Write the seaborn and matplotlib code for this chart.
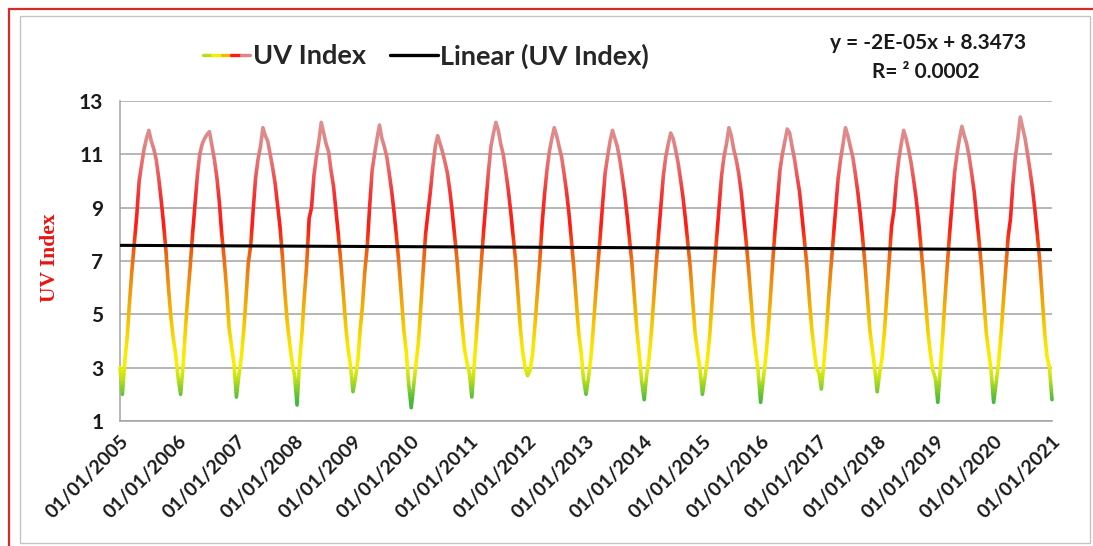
import numpy as np
import pandas as pd
import seaborn as sns
import matplotlib
matplotlib.use("Agg")
import matplotlib.pyplot as plt
import matplotlib.dates as mdates
from matplotlib.colors import LinearSegmentedColormap
from matplotlib.lines import Line2D
from matplotlib.patches import Rectangle
from matplotlib.legend_handler import HandlerTuple

# UV index, two values per month (1st and 16th), one list per year
uv_2005 = [3.0, 2.0, 3.3, 4.2, 5.4, 6.6, 7.7, 8.7, 10.0, 10.6, 11.2, 11.6, 11.9, 11.5, 11.2, 10.8, 10.1, 9.3, 8.4, 7.4, 6.0, 4.9, 4.1, 3.5]
uv_2006 = [2.6, 2.0, 3.1, 4.5, 5.6, 6.7, 8.0, 9.1, 10.2, 11.0, 11.4, 11.6, 11.75, 11.85, 11.3, 10.8, 10.1, 9.2, 8.0, 7.1, 5.9, 4.5, 3.8, 3.2]
uv_2007 = [1.9, 2.7, 3.4, 4.4, 5.5, 6.9, 7.6, 8.9, 10.1, 10.8, 11.3, 12.0, 11.7, 11.5, 11.0, 10.5, 9.9, 9.1, 8.3, 7.2, 5.8, 4.7, 3.9, 3.2]
uv_2008 = [2.7, 1.6, 3.2, 4.3, 5.6, 6.8, 8.6, 9.0, 10.2, 10.9, 11.5, 12.2, 11.8, 11.4, 11.1, 10.4, 9.8, 8.9, 8.0, 7.0, 5.8, 4.6, 3.7, 3.1]
uv_2009 = [2.1, 2.6, 3.3, 4.5, 5.3, 6.6, 7.6, 9.1, 10.4, 11.0, 11.6, 12.1, 11.6, 11.3, 10.9, 10.3, 9.6, 8.8, 7.9, 6.9, 5.6, 4.4, 3.6, 2.4]
uv_2010 = [1.5, 2.3, 3.2, 4.0, 5.2, 6.6, 8.0, 8.8, 9.6, 10.5, 11.3, 11.7, 11.4, 11.1, 10.7, 10.3, 9.6, 8.8, 7.9, 7.0, 5.7, 4.6, 3.7, 3.2]
uv_2011 = [2.8, 1.9, 3.2, 4.4, 5.6, 6.9, 8.2, 9.3, 10.4, 11.3, 11.8, 12.2, 11.9, 11.4, 11.0, 10.4, 9.7, 8.9, 8.0, 7.1, 5.8, 4.5, 3.6, 3.0]
uv_2012 = [2.7, 2.9, 3.5, 4.6, 5.7, 6.9, 8.4, 9.5, 10.4, 11.1, 11.6, 12.0, 11.7, 11.3, 10.9, 10.3, 9.6, 8.8, 7.8, 6.8, 5.5, 4.3, 3.6, 2.6]
uv_2013 = [2.0, 2.6, 3.4, 4.5, 5.6, 6.8, 8.0, 9.2, 10.3, 10.9, 11.5, 11.9, 11.6, 11.3, 10.8, 10.2, 9.5, 8.7, 7.8, 6.9, 5.6, 4.4, 3.5, 2.5]
uv_2014 = [1.8, 2.7, 3.4, 4.4, 5.5, 6.8, 8.0, 9.1, 10.2, 10.9, 11.4, 11.8, 11.6, 11.2, 10.7, 10.1, 9.4, 8.6, 7.7, 6.8, 5.5, 4.3, 3.6, 3.0]
uv_2015 = [2.0, 2.6, 3.3, 4.2, 5.4, 6.7, 7.9, 9.0, 10.2, 10.9, 11.4, 12.0, 11.7, 11.2, 10.8, 10.3, 9.6, 8.7, 7.8, 6.8, 5.6, 4.4, 3.6, 2.9]
uv_2016 = [1.7, 2.5, 3.3, 4.3, 5.5, 6.9, 8.2, 9.3, 10.4, 11.0, 11.5, 11.95, 11.8, 11.3, 10.8, 10.2, 9.6, 8.7, 7.8, 6.9, 5.6, 4.5, 3.7, 3.0]
uv_2017 = [2.8, 2.2, 3.2, 4.3, 5.5, 6.7, 7.9, 9.0, 10.1, 10.8, 11.4, 12.0, 11.7, 11.3, 10.9, 10.3, 9.6, 8.8, 7.9, 6.9, 5.6, 4.4, 3.7, 3.0]
uv_2018 = [2.1, 2.8, 3.4, 4.4, 5.6, 6.9, 8.3, 8.9, 10.0, 10.8, 11.4, 11.9, 11.6, 11.2, 10.7, 10.1, 9.4, 8.6, 7.6, 6.6, 5.4, 4.3, 3.5, 2.9]
uv_2019 = [2.6, 1.7, 3.0, 4.2, 5.5, 6.8, 8.1, 9.2, 10.3, 11.0, 11.6, 12.05, 11.7, 11.4, 10.9, 10.3, 9.6, 8.7, 7.8, 6.8, 5.5, 4.3, 3.6, 2.9]
uv_2020 = [1.7, 2.4, 3.2, 4.2, 5.4, 6.6, 7.9, 8.6, 9.9, 10.9, 11.6, 12.4, 12.0, 11.6, 11.0, 10.4, 9.7, 8.9, 8.0, 7.0, 5.6, 4.3, 3.4, 3.0]
uv_2021 = [1.8]

years = list(range(2005, 2021))
sample_days = [1, 16]
y_ticks = [1, 3, 5, 7, 9, 11, 13]
equation = "y = -2E-05x + 8.3473"
r_squared = "R= \u00b2 0.0002"

# colour stops of the line, by UV value
grad_values = [1.0, 1.8, 2.5, 3.1, 3.8, 5.0, 6.3, 7.3, 8.3, 9.5, 10.6, 11.5, 13.0]
grad_colors = ["#2eaa4a", "#4cbb3c", "#b5dd1e", "#f6f000", "#fbe400", "#f3b800",
               "#ee8c0e", "#f0600f", "#ff1a12", "#f43232", "#ea6a6a", "#e08686", "#dc9a9a"]

dates = [pd.Timestamp(y, m, d) for y in years for m in range(1, 13) for d in sample_days]
dates.append(pd.Timestamp(2021, 1, 1))
uv = np.concatenate([uv_2005, uv_2006, uv_2007, uv_2008, uv_2009, uv_2010, uv_2011, uv_2012,
                     uv_2013, uv_2014, uv_2015, uv_2016, uv_2017, uv_2018, uv_2019, uv_2020, uv_2021])
df = pd.DataFrame({"date": dates, "uv": uv})
df["xnum"] = mdates.date2num(df["date"])

sns.set_theme(style="white")
plt.rcParams["font.family"] = ["Lato", "DejaVu Sans"]

fig = plt.figure(figsize=(10.93, 5.46), dpi=100)
ax = fig.add_axes([120 / 1093, 1 - 421 / 546, 932 / 1093, 320 / 546])

span = grad_values[-1] - grad_values[0]
cmap = LinearSegmentedColormap.from_list(
    "uv", [((v - grad_values[0]) / span, c) for v, c in zip(grad_values, grad_colors)])

x0, x1 = df["xnum"].min(), df["xnum"].max()
# draw the series once per horizontal band, clipped to it, so the stroke follows the value gradient
bands = np.linspace(1, 13, 121)
for lo, hi in zip(bands[:-1], bands[1:]):
    line, = ax.plot(df["xnum"], df["uv"], color=cmap((0.5 * (lo + hi) - 1) / span),
                    lw=2.6, solid_joinstyle="round", zorder=3)
    clip = Rectangle((x0 - 50, lo - 0.004), x1 - x0 + 100, hi - lo + 0.008, transform=ax.transData)
    line.set_clip_path(clip)

sns.regplot(data=df, x="xnum", y="uv", scatter=False, ci=None, ax=ax, truncate=True,
            line_kws={"color": "black", "lw": 2.2, "zorder": 4})

ax.set_xlim(mdates.date2num(pd.Timestamp(2005, 1, 1)), mdates.date2num(pd.Timestamp(2021, 1, 1)))
ax.set_ylim(1, 13)
ax.set_yticks(y_ticks)
ax.xaxis.set_major_locator(mdates.YearLocator())
ax.xaxis.set_major_formatter(mdates.DateFormatter("%d/%m/%Y"))
ax.grid(axis="y", color="#a3a3a3", lw=1.1)
ax.grid(axis="x", visible=False)
for side in ["top", "right"]:
    ax.spines[side].set_visible(False)
for side in ["left", "bottom"]:
    ax.spines[side].set_color("#a3a3a3")
    ax.spines[side].set_linewidth(1.1)

ax.tick_params(axis="y", length=0, pad=12, labelsize=15, labelcolor="#1a1a1a")
ax.tick_params(axis="x", length=0, pad=8, labelsize=14, labelcolor="#1a1a1a")
for lab in ax.get_yticklabels():
    lab.set_fontweight("bold")
for lab in ax.get_xticklabels():
    lab.set_fontweight("bold")
    lab.set_rotation(45)
    lab.set_ha("right")
    lab.set_va("top")
    lab.set_rotation_mode("anchor")

ax.set_xlabel("")
ax.set_ylabel("UV Index", color="#ee1111", fontsize=15.5, fontweight="bold", family="Liberation Serif")
ax.yaxis.set_label_coords(-0.064, 0.51)

# legend with a multi-coloured sample for the gradient line
seg_cols = ["#b5dd1e", "#f6f000", "#f3b800", "#ff1a12", "#e08686"]
uv_handle = tuple(Line2D([], [], color=c, lw=2.4) for c in seg_cols)
lin_handle = Line2D([], [], color="black", lw=2.4)
fig.legend([uv_handle, lin_handle], ["UV Index", "Linear (UV Index)"],
           handler_map={tuple: HandlerTuple(ndivide=None, pad=0)},
           loc="center", bbox_to_anchor=(426 / 1093, 1 - 56 / 546), ncol=2, frameon=False,
           prop={"family": "Lato", "weight": "bold", "size": 19.5}, handlelength=1.75,
           handletextpad=0.1, columnspacing=0.9)

fig.text(928 / 1093, 1 - 43 / 546, equation, ha="center", va="center", fontsize=15, fontweight="bold", color="#1a1a1a")
fig.text(926 / 1093, 1 - 72 / 546, r_squared, ha="center", va="center", fontsize=15, fontweight="bold", color="#1a1a1a")

# sheet frame around the chart
fig.add_artist(Rectangle((20 / 1093, 1 - 543 / 546), 1070 / 1093, 527 / 546, transform=fig.transFigure,
                         fill=False, edgecolor="#c4c4c4", lw=1.0))
fig.add_artist(Line2D([9 / 1093, 9 / 1093], [0, 1 - 9 / 546], transform=fig.transFigure, color="#d42a2a", lw=1.6))
fig.add_artist(Line2D([9 / 1093, 1], [1 - 9 / 546, 1 - 9 / 546], transform=fig.transFigure, color="#d42a2a", lw=1.6))

fig.savefig("out.png", dpi=100, facecolor="white")
